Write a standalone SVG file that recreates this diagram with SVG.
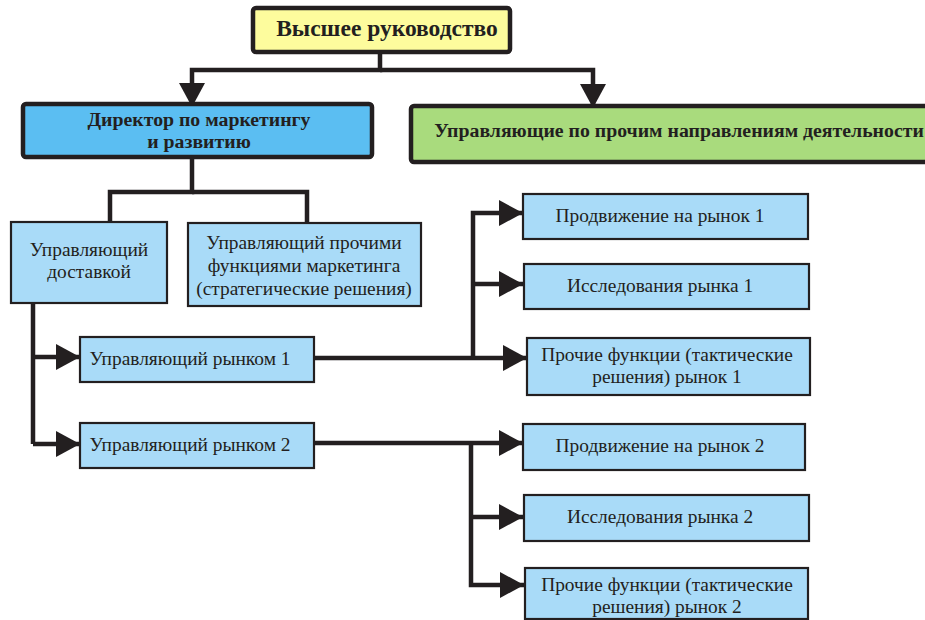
<svg xmlns="http://www.w3.org/2000/svg" width="925" height="620" viewBox="0 0 925 620">
<defs>
<style>
.big{stroke:#231f20;stroke-width:4.5}
.box{fill:#a9dbf8;stroke:#231f20;stroke-width:2.2}
text{font-family:'Liberation Serif','DejaVu Serif',serif;font-size:19.4px;fill:#231f20;text-anchor:middle}
.b{font-weight:bold;font-size:19.8px}
.c{fill:none;stroke:#231f20;stroke-width:4.5;stroke-linejoin:miter}
</style>
<marker id="ah" markerWidth="24" markerHeight="26" refX="24" refY="13" orient="auto" markerUnits="userSpaceOnUse">
<path d="M0,0 L24,13 L0,26 Z" fill="#231f20"/>
</marker>
</defs>
<rect width="925" height="620" fill="#ffffff"/>
<g id="connectors">
<path class="c" d="M380,52 V70 H192 V107" marker-end="url(#ah)"/>
<path class="c" d="M380,70 H593 V108" marker-end="url(#ah)"/>
<path class="c" d="M192,157 V192 H110 V222"/>
<path class="c" d="M192,192 H307 V223"/>
<path class="c" d="M33,303 V444"/>
<path class="c" d="M33,357 H80" marker-end="url(#ah)"/>
<path class="c" d="M33,444 H80" marker-end="url(#ah)"/>
<path class="c" d="M314,358 H527" marker-end="url(#ah)"/>
<path class="c" d="M473,358 V213 H523" marker-end="url(#ah)"/>
<path class="c" d="M473,284 H523" marker-end="url(#ah)"/>
<path class="c" d="M314,443 H523" marker-end="url(#ah)"/>
<path class="c" d="M471,443 V585 H524" marker-end="url(#ah)"/>
<path class="c" d="M471,517 H523" marker-end="url(#ah)"/>
</g>
<g id="top">
<rect class="big" x="253" y="8" width="257" height="44" rx="3" fill="#fdfc9d"/>
<text class="b" x="387" y="36" style="font-size:23.5px">Высшее руководство</text>
</g>
<g id="director">
<rect class="big" x="23" y="104" width="349" height="53" rx="3" fill="#5bbef2"/>
<text class="b" x="199" y="126">Директор по маркетингу</text>
<text class="b" x="199" y="148">и развитию</text>
</g>
<g id="others">
<rect class="big" x="411" y="106" width="530" height="56" rx="3" fill="#a9db7d"/>
<text class="b" x="679" y="137">Управляющие по прочим направлениям деятельности</text>
</g>
<g id="delivery">
<rect class="box" x="11" y="222" width="156" height="81"/>
<text x="89" y="256">Управляющий</text>
<text x="89" y="278">доставкой</text>
</g>
<g id="strategic">
<rect class="box" x="188" y="223" width="233" height="83"/>
<text x="304" y="249">Управляющий прочими</text>
<text x="304" y="272">функциями маркетинга</text>
<text x="304" y="295">(стратегические решения)</text>
</g>
<g id="market1">
<rect class="box" x="80" y="337" width="234" height="45"/>
<text x="190" y="365">Управляющий рынком 1</text>
</g>
<g id="market2">
<rect class="box" x="80" y="423" width="234" height="45"/>
<text x="190" y="451">Управляющий рынком 2</text>
</g>
<g id="promo1">
<rect class="box" x="523" y="194" width="285" height="45"/>
<text x="660" y="222">Продвижение на рынок 1</text>
</g>
<g id="research1">
<rect class="box" x="524" y="264" width="285" height="45"/>
<text x="660" y="292">Исследования рынка 1</text>
</g>
<g id="other1">
<rect class="box" x="527" y="338" width="283" height="57"/>
<text x="667" y="361">Прочие функции (тактические</text>
<text x="667" y="383">решения) рынок 1</text>
</g>
<g id="promo2">
<rect class="box" x="523" y="424" width="282" height="46"/>
<text x="660" y="452">Продвижение на рынок 2</text>
</g>
<g id="research2">
<rect class="box" x="524" y="495" width="285" height="46"/>
<text x="660" y="523">Исследования рынка 2</text>
</g>
<g id="other2">
<rect class="box" x="525" y="568" width="283" height="51"/>
<text x="667" y="591">Прочие функции (тактические</text>
<text x="667" y="613">решения) рынок 2</text>
</g>
</svg>
